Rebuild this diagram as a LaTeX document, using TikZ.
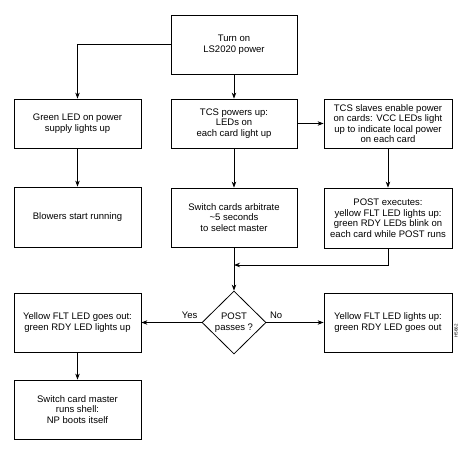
\documentclass[tikz,border=0pt]{standalone}
\usepackage{fontspec}
\setmainfont{Liberation Sans}
\usetikzlibrary{positioning,arrows.meta,shapes.geometric}

\begin{document}
\begin{tikzpicture}[x=1pt,y=-1pt,
  box/.style={rectangle, draw, line width=0.8pt, align=center, inner sep=1pt,
    font=\fontsize{9.5}{10.5}\selectfont},
  test/.style={diamond, draw, line width=0.8pt, align=center, inner sep=0pt,
    minimum width=64pt, minimum height=63pt, font=\fontsize{9.5}{10.5}\selectfont},
  flow/.style={line width=0.8pt, -{Stealth[length=6pt,width=4.5pt]}}]
\useasboundingbox (0,0) rectangle (473,463);
% Top
\node[box, minimum width=126pt, minimum height=59pt] (power) at (234,44.5) {Turn on\\LS2020 power};
% Row 1
\node[box, minimum width=127pt, minimum height=49pt] (green) at (77.5,123.5) {Green LED on power\\supply lights up};
\node[box, minimum width=126pt, minimum height=49pt] (tcs) at (234,123.5) {TCS powers up:\\LEDs on\\each card light up};
\node[box, minimum width=128pt, minimum height=49pt] (slaves) at (388,123.5) {TCS slaves enable power\\on cards: VCC LEDs light\\up to indicate local power\\on each card};
% Row 2
\node[box, minimum width=127pt, minimum height=60pt] (blowers) at (77.5,217) {Blowers start running};
\node[box, minimum width=126pt, minimum height=59pt] (arbit) at (234,217.5) {Switch cards arbitrate\\\textasciitilde5 seconds\\to select master};
\node[box, minimum width=128pt, minimum height=60pt] (post) at (388,218) {POST executes:\\yellow FLT LED lights up:\\green RDY LEDs blink on\\each card while POST runs};
% Decision
\coordinate (merge) at (234,265);
\node[test] (passes) at (234,322.5) {POST\\passes ?};
\node[box, minimum width=127pt, minimum height=59pt] (ledout) at (77.5,322.5) {Yellow FLT LED goes out:\\green RDY LED lights up};
\node[box, minimum width=128pt, minimum height=59pt] (ledup) at (388,322.5) {Yellow FLT LED lights up:\\green RDY LED goes out};
\node[box, minimum width=127pt, minimum height=59pt] (master) at (77.5,409.5) {Switch card master\\runs shell:\\NP boots itself};
\node[rotate=90, font=\fontsize{4.5}{5}\selectfont] (figid) at (456,331) {H5662};

% Edges
\draw[flow] (power.west) -| (green.north);
\draw[flow] (power) -- (tcs);
\draw[flow] (tcs.east) -- (slaves.west);
\draw[flow] (green) -- (blowers);
\draw[flow] (tcs) -- (arbit);
\draw[flow] (slaves) -- (post);
\draw[flow] (post.south) |- (merge);
\draw[flow] (arbit.south) -- (passes.north);
\draw[flow] (passes.west) -- node[pos=0.2, above, font=\fontsize{9.5}{10.5}\selectfont] {Yes} (ledout.east);
\draw[flow] (passes.east) -- node[pos=0.17, above, font=\fontsize{9.5}{10.5}\selectfont] {No} (ledup.west);
\draw[flow] (ledout) -- (master);
\end{tikzpicture}
\end{document}
